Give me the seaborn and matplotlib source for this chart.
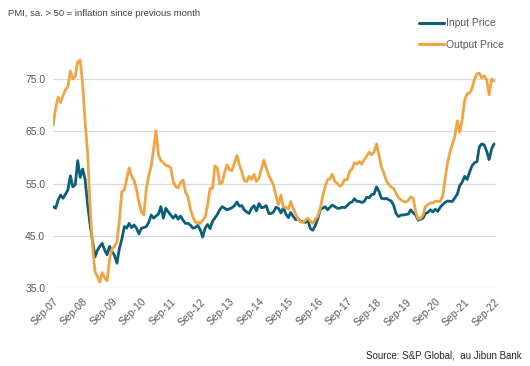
import numpy as np
import pandas as pd
import matplotlib
matplotlib.use("Agg")
import matplotlib.pyplot as plt
import matplotlib.dates as mdates
import seaborn as sns

# ── DATA (monthly, Sep-07 .. Sep-22) ──
START = "2007-09-01"

input_price = [
    50.6, 50.3, 51.9, 52.8, 52.2, 53.0, 53.8, 56.5, 54.4, 54.8,
    59.4, 56.2, 57.8, 55.8, 51.0, 47.3, 44.0, 41.0, 42.2, 43.0,
    43.6, 42.3, 41.4, 43.0, 42.0, 41.3, 39.8, 42.6, 44.4, 46.8,
    46.5, 47.4, 46.6, 47.1, 46.5, 45.4, 46.5, 46.6, 46.8, 47.6,
    49.0, 48.4, 48.8, 49.2, 50.6, 48.4, 50.3, 49.6, 49.0, 48.4,
    49.0, 48.2, 48.8, 48.0, 47.4, 47.4, 47.1, 46.5, 46.6, 47.0,
    46.2, 44.8, 46.5, 47.2, 46.4, 47.8, 48.4, 49.1, 50.0, 50.6,
    50.3, 50.0, 50.2, 50.4, 50.8, 51.5, 50.7, 50.8, 50.0, 49.6,
    49.3, 50.3, 50.8, 49.8, 51.2, 50.4, 50.5, 50.8, 49.3, 49.3,
    49.6, 50.5, 50.3, 49.4, 50.4, 49.2, 48.5, 49.5, 48.7, 48.1,
    48.3, 47.8, 47.7, 47.6, 48.0, 46.4, 46.1, 47.0, 48.3, 50.0,
    50.3, 50.6, 50.0, 50.5, 50.9, 50.6, 50.3, 50.3, 50.5, 50.4,
    50.8, 51.3, 51.5, 52.1, 51.6, 51.6, 51.4, 51.6, 52.4, 52.3,
    52.9, 53.0, 54.4, 53.5, 52.2, 52.1, 52.2, 51.9, 51.7, 50.9,
    49.3, 48.7, 49.0, 49.0, 49.1, 49.2, 50.0, 49.4, 49.0, 48.0,
    48.2, 48.4, 49.3, 49.5, 50.0, 49.6, 50.1, 49.7, 50.5, 51.0,
    51.4, 51.7, 51.6, 51.6, 52.3, 53.0, 54.6, 55.3, 56.4, 55.8,
    57.2, 58.4, 59.0, 59.2, 62.0, 62.6, 62.4, 61.2, 59.6, 61.6,
    62.6,
]

output_price = [
    66.2, 69.5, 71.5, 70.5, 71.8, 73.0, 73.5, 76.5, 75.0, 75.5,
    78.3, 78.6, 74.0, 66.8, 61.0, 51.0, 43.0, 38.2, 37.3, 36.2,
    38.0, 37.0, 36.4, 40.5, 42.5, 43.0, 43.8, 48.0, 53.5, 53.8,
    55.8, 58.0, 56.5, 55.6, 54.0, 51.5, 49.6, 49.0, 54.0, 56.5,
    58.4, 61.8, 65.1, 60.5, 59.4, 59.0, 58.5, 58.4, 58.0, 55.4,
    54.4, 54.2, 55.2, 55.7, 53.4, 52.5, 50.2, 48.7, 47.6, 47.6,
    47.4, 48.0, 48.6, 50.8, 54.1, 54.1, 58.4, 58.0, 55.0, 55.2,
    57.2, 58.6, 57.6, 57.5, 59.0, 60.4, 58.6, 57.2, 55.6, 55.4,
    56.4, 55.8, 56.8, 55.4, 56.0, 57.8, 59.5, 58.0, 56.6, 55.6,
    54.7, 52.6, 51.0, 52.8, 50.5, 50.5, 50.1, 51.6, 50.2, 49.2,
    48.2, 47.7, 47.6, 48.0, 48.4, 47.8, 47.4, 48.2, 48.8, 50.2,
    52.6, 54.4, 55.7, 56.0, 56.8, 55.4, 55.1, 54.5, 54.8, 55.8,
    55.7, 57.3, 57.8, 59.0, 58.7, 59.2, 58.7, 59.6, 60.2, 61.0,
    60.5, 61.0, 62.6, 60.5, 58.2, 57.0, 55.6, 54.8, 54.4, 54.1,
    53.2, 52.3, 51.9, 51.6, 51.5, 51.8, 52.5, 52.2, 49.6, 48.2,
    48.4, 49.0, 50.6, 51.0, 51.3, 51.3, 51.7, 51.6, 51.6, 52.6,
    56.0, 59.0, 61.0, 62.5, 64.0, 67.0, 64.8, 67.2, 71.0, 72.2,
    72.3, 73.2, 75.0, 76.0, 76.1, 75.2, 75.6, 74.8, 72.0, 75.0,
    74.6,
]

SERIES = ["Input Price", "Output Price"]
COLORS = {"Input Price": "#0c5f78", "Output Price": "#f0a443"}
Y_TICKS = [35, 45, 55, 65, 75]

dates = pd.date_range(START, periods=len(input_price), freq="MS")
df = pd.concat([
    pd.DataFrame({"date": dates, "value": input_price, "series": SERIES[0]}),
    pd.DataFrame({"date": dates, "value": output_price, "series": SERIES[1]}),
])

# ── STYLE ──
sns.set_theme(style="white")
plt.rcParams["font.family"] = ["Liberation Sans", "DejaVu Sans"]
GREY = "#595959"

fig = plt.figure(figsize=(5.3, 3.66), dpi=100)
ax = fig.add_axes([0.1, 0.2123, 0.836, 0.6434])

sns.lineplot(data=df, x="date", y="value", hue="series", palette=COLORS,
             linewidth=2.0, ax=ax)

ax.set_ylim(35, 80)
ax.set_yticks(Y_TICKS)
ax.set_yticklabels([f"{v:.1f}" for v in Y_TICKS], color=GREY, fontsize=7.5)
ax.yaxis.grid(True, color="#d9d9d9", linewidth=0.9)
ax.xaxis.grid(False)
for s in ax.spines.values():
    s.set_visible(False)

ax.set_xlim(dates[0] - pd.Timedelta(days=3), dates[-1] + pd.Timedelta(days=25))
sep_ticks = pd.date_range("2007-09-01", "2022-09-01", freq="12MS")
ax.set_xticks(sep_ticks)
ax.set_xticklabels([d.strftime("%b-%y") for d in sep_ticks], rotation=45,
                   ha="right", rotation_mode="anchor", color=GREY, fontsize=7.5)
ax.tick_params(axis="both", length=0, pad=6)
ax.tick_params(axis="y", pad=5.5)
ax.set_xlabel("")
ax.set_ylabel("")

leg = ax.legend(loc="upper left", bbox_to_anchor=(0.804, 1.187), frameon=False,
                fontsize=7.5, handlelength=2.4, labelspacing=1.1,
                handletextpad=0.2)
for t in leg.get_texts():
    t.set_color(GREY)
for h in leg.get_lines():
    h.set_linewidth(2.2)

fig.text(0.015, 0.962, "PMI, sa. > 50 = inflation since previous month",
         fontsize=6.8, color="#404040", ha="left", va="center")
fig.text(0.985, 0.03, "Source: S&P Global,  au Jibun Bank",
         fontsize=7, color="#262626", ha="right", va="center")

fig.savefig("out.png", dpi=100)
